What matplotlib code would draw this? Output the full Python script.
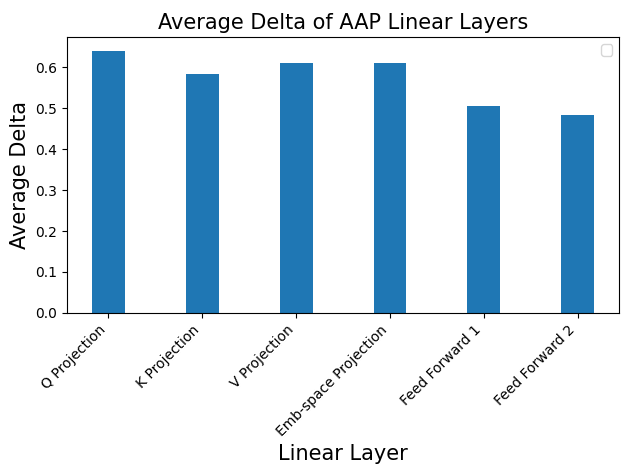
import numpy as np
import matplotlib
matplotlib.use("Agg")
import matplotlib.pyplot as plt

layers = ["Q Projection", "K Projection", "V Projection",
          "Emb-space Projection", "Feed Forward 1", "Feed Forward 2"]
avg_delta = [0.641, 0.583, 0.610, 0.610, 0.505, 0.483]

x = np.arange(len(layers))

fig, ax = plt.subplots(figsize=(6.3, 4.74), dpi=100)
ax.bar(x, avg_delta, width=0.35)
ax.set_xticks(x)
ax.set_xticklabels(layers, rotation=45, ha="right")
ax.set_xlabel("Linear Layer", fontsize=15)
ax.set_ylabel("Average Delta", fontsize=15)
ax.set_title("Average Delta of AAP Linear Layers", fontsize=15)
ax.legend(handles=[])
fig.subplots_adjust(left=0.106, right=0.983, top=0.921, bottom=0.340)
fig.savefig("out.png")
